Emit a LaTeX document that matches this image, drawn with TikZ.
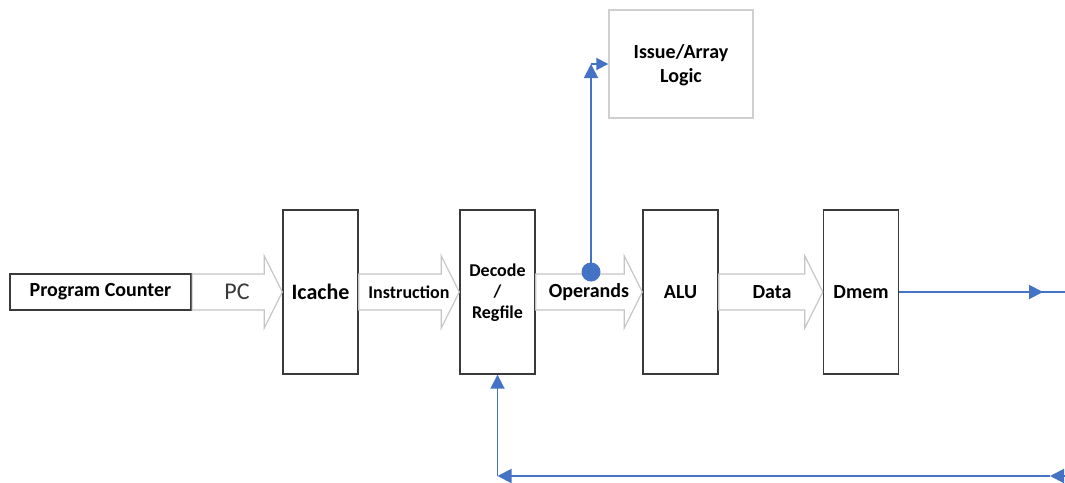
\documentclass[tikz,border=0pt]{standalone}
\usepackage{fontspec}
\setmainfont{Carlito}
\usetikzlibrary{arrows.meta,calc}
\definecolor{wblue}{HTML}{4472C4}
\definecolor{boxline}{HTML}{3A3A3A}
\definecolor{arrline}{HTML}{C4C4C4}
\definecolor{issline}{HTML}{D0D0D0}
\tikzset{
  stage/.style={draw=boxline,line width=1.4pt,minimum width=75pt,minimum height=164pt,inner sep=0pt,font=\bfseries\fontsize{20}{24}\selectfont,align=center},
  pcbox/.style={draw=boxline,line width=2.2pt,minimum width=181pt,minimum height=36pt,inner sep=0pt,font=\bfseries\fontsize{20}{24}\selectfont},
  issbox/.style={draw=issline,line width=1.4pt,minimum width=144pt,minimum height=108pt,inner sep=0pt},
  blk/.style={draw=arrline,line width=1.2pt,fill=white},
  bluel/.style={draw=wblue,line width=1.9pt},
  btip/.style={-{Triangle[length=14pt,width=14pt]}},
  lbl/.style={inner sep=0pt,font=\bfseries\fontsize{20}{24}\selectfont},
  dlbl/.style={inner sep=0pt,font=\bfseries\fontsize{18}{21}\selectfont},
}
\newcommand{\blockarr}[2]{%
  \path[blk] let \p1=(#1.east), \p2=(#2.west) in
    (\x1,274) -- (\x2-18,274) -- (\x2-18,256) -- (\x2,292) -- (\x2-18,328) -- (\x2-18,310) -- (\x1,310) -- cycle;}
\begin{document}
\begin{tikzpicture}[x=1pt,y=-1pt]
\useasboundingbox (0,0) rectangle (1065,482);
\node[pcbox] (pc) at (100.5,292) {Program Counter};
\node[stage] (ic) at (320.5,292) {\fontsize{22}{26}\selectfont Icache};
\node[stage] (dec) at (497.5,292) {};
\node[stage] (alu) at (680.5,292) {ALU};
\node[stage] (dm) at (861,292) {Dmem};
\node[issbox] (iss) at (681,64) {};
\node[lbl] (is1) at (681,53) {Issue/Array};
\node[lbl] (is2) at (681,77) {Logic};
\blockarr{pc}{ic}
\blockarr{ic}{dec}
\blockarr{dec}{alu}
\blockarr{alu}{dm}
\node[inner sep=0pt,font=\fontsize{24}{28}\selectfont,text=boxline] (pclbl) at (237,292) {PC};
\node[dlbl] (inlbl) at (409,292) {Instruction};
\node[lbl] (oplbl) at (589,292) {Operands};
\node[lbl] (dalbl) at (772,292) {Data};
\node[dlbl] (d1) at (497.5,270) {Decode};
\node[dlbl] (d2) at (497.5,292) {/};
\node[dlbl] (d3) at (497.5,314) {Regfile};
% issue connector
\fill[wblue] (591,272) circle (9.5pt) coordinate (dot);
\coordinate (up) at (dot |- iss.west);
\draw[bluel,btip] (dot) -- (up);
\draw[bluel,-{Triangle[length=12pt,width=12pt]}] (up) -- (iss.west);
% Dmem output
\coordinate (outr) at (1065,292);
\coordinate (outm) at (1043,292);
\draw[bluel] (dm.east) -- (outr);
\draw[bluel,btip] (dm.east) -- (outm);
% feedback
\coordinate (fbr) at (1065,476);
\coordinate (fbm) at (1050,476);
\coordinate (fbc) at (dec.south |- fbr);
\draw[bluel,btip] (fbr) -- (fbm);
\draw[bluel,btip] (fbm) -- (fbc);
\draw[bluel,btip] (fbc) -- (dec.south);
\end{tikzpicture}
\end{document}
